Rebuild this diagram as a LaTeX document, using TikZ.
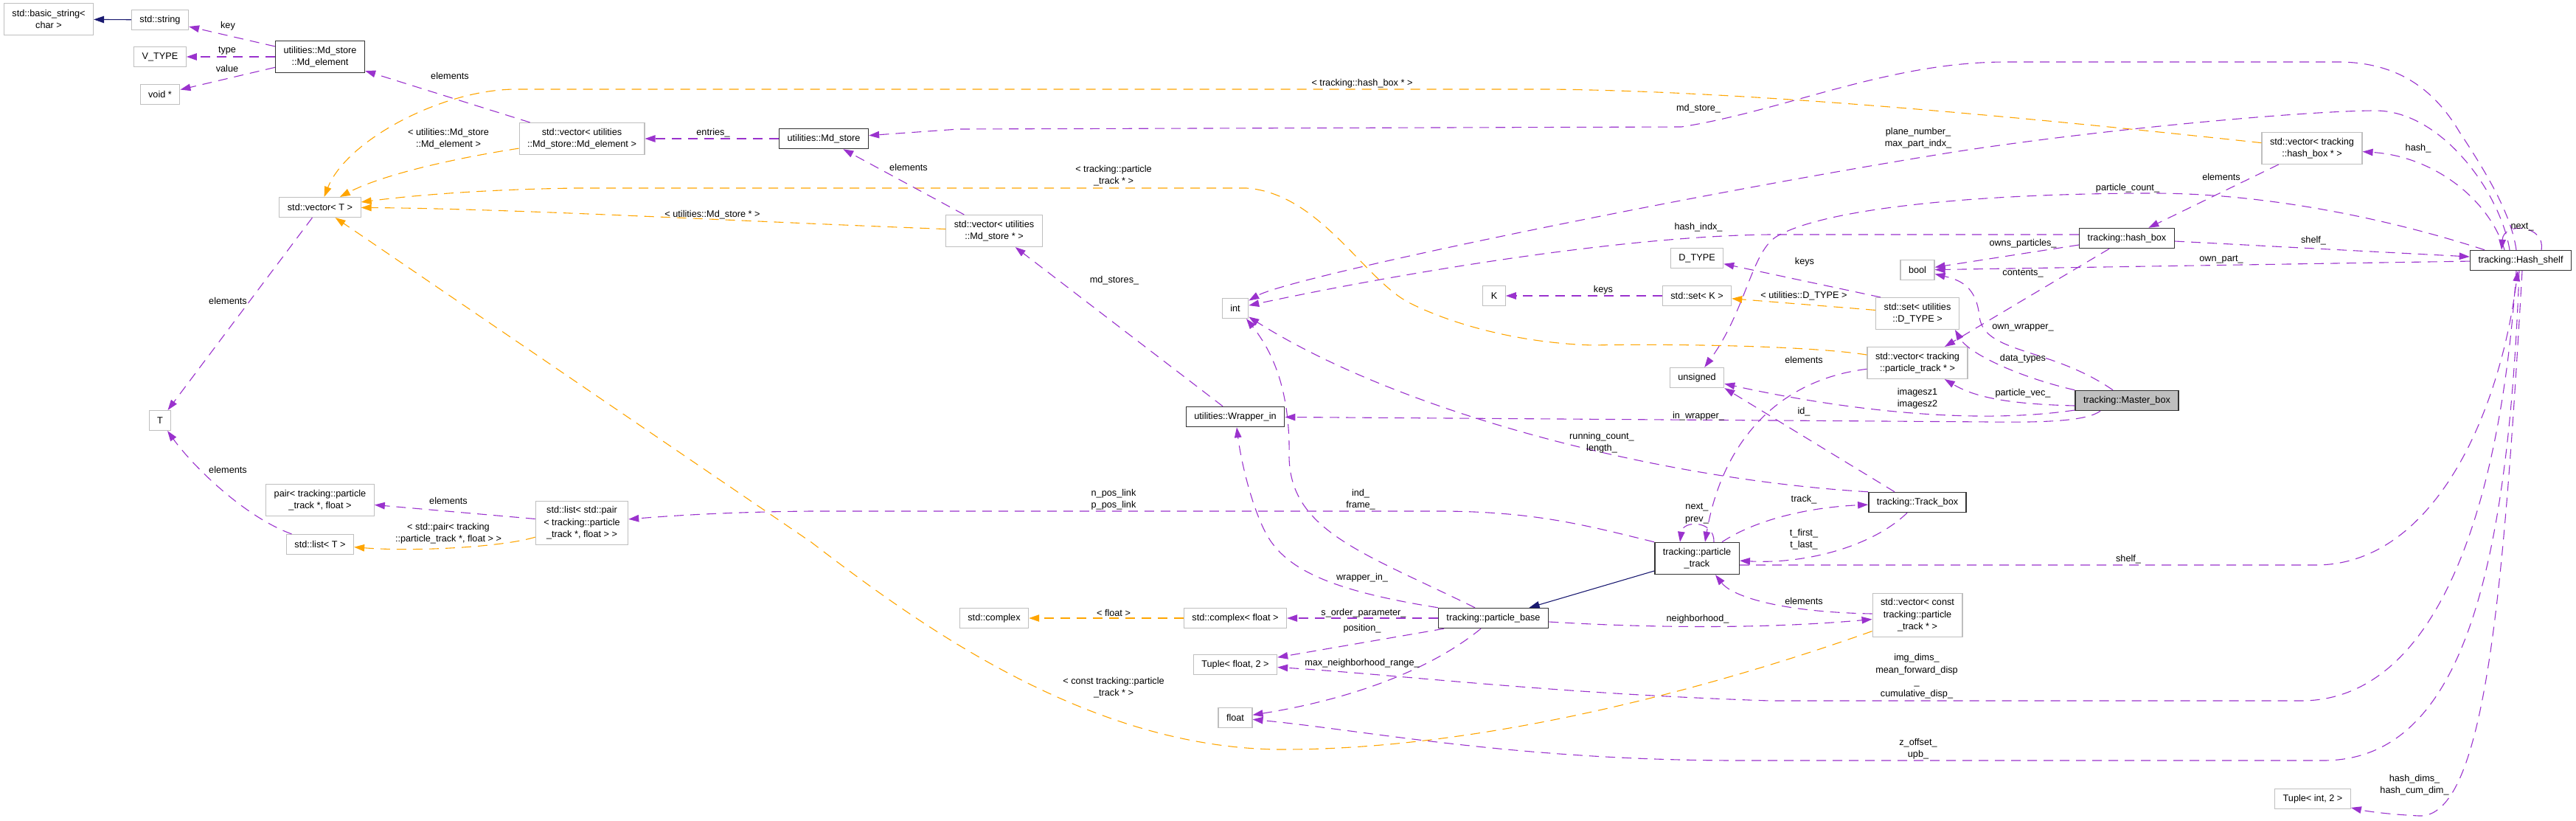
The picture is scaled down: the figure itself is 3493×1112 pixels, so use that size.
\documentclass[tikz,border=0pt]{standalone}
\usepackage{fontspec}
\setmainfont{Liberation Sans}
\usetikzlibrary{arrows.meta}
\definecolor{usecol}{HTML}{9A32CD}
\definecolor{tmplcol}{HTML}{FFA500}
\definecolor{basecol}{HTML}{191970}
\definecolor{boxgray}{HTML}{BFBFBF}

\begin{document}
\begin{tikzpicture}[
    x=1pt, y=-1pt,
    >={Triangle[length=14pt,width=9.5pt]},
    font=\fontsize{12.7}{16.4}\selectfont,
    member/.style={
        rectangle,
        draw=boxgray,
        line width=1.1pt,
        fill=white,
        inner xsep=11pt,
        inner ysep=0pt,
        minimum height=#1,
        align=center
    },
    member/.default=27pt,
    klass/.style={member=#1, draw=black!80, line width=1.5pt},
    klass/.default=27pt,
    focus/.style={klass, fill=boxgray},
    elabel/.style={inner sep=0pt, align=center},
    uses/.style={->, draw=usecol, line width=1.1pt, dash pattern=on 13pt off 9pt},
    tmpl/.style={->, draw=tmplcol, line width=1.1pt, dash pattern=on 13pt off 9pt},
    inherit/.style={->, draw=basecol, line width=1.1pt}
]
\useasboundingbox (0,0) rectangle (3493,1112);

% --- utilities side (left) ---
\node[member=43pt] (bstr)    at (66,26)   {std::basic\_string<\\char >};
\node[member]      (stdstr)  at (217,27)  {std::string};
\node[member]      (vtype)   at (217,77)  {V\_TYPE};
\node[member]      (voidp)   at (217,128) {void *};
\node[klass=43pt]  (mdel)    at (434,77)  {utilities::Md\_store\\::Md\_element};
\node[member]      (vecT)    at (434,281) {std::vector< T >};
\node[member]      (tT)      at (217,570) {T};
\node[member=43pt] (pairT)   at (434,678) {pair< tracking::particle\\\_track *, float >};
\node[member]      (listT)   at (434,738) {std::list< T >};
\node[member=43pt] (vecmdel) at (789,188) {std::vector< utilities\\::Md\_store::Md\_element >};
\node[klass]       (mdstore) at (1117,188) {utilities::Md\_store};
\node[member=59pt] (listpair) at (789,709) {std::list< std::pair\\< tracking::particle\\\_track *, float > >};
\node[member=43pt] (vecmds)  at (1348,313) {std::vector< utilities\\::Md\_store * >};

% --- plain types (middle column) ---
\node[member] (tint)   at (1675,418) {int};
\node[klass]  (wrap)   at (1675,565) {utilities::Wrapper\_in};
\node[member] (cplx)   at (1348,838) {std::complex};
\node[member] (cplxf)  at (1675,838) {std::complex< float >};
\node[member] (tupf)   at (1675,901) {Tuple< float, 2 >};
\node[member] (tfloat) at (1675,973) {float};
\node[member] (dtype)  at (2301,350) {D\_TYPE};
\node[member] (tK)     at (2026,401) {K};
\node[member] (setK)   at (2301,401) {std::set< K >};
\node[member] (uns)    at (2301,512) {unsigned};

% --- tracking classes (right) ---
\node[member]      (tbool)  at (2600,366) {bool};
\node[member=43pt] (setdt)  at (2600,425) {std::set< utilities\\::D\_TYPE >};
\node[member=43pt] (vecpt)  at (2600,492) {std::vector< tracking\\::particle\_track * >};
\node[klass]       (hbox)   at (2884,323) {tracking::hash\_box};
\node[focus]       (master) at (2884,543) {tracking::Master\_box};
\node[member=43pt] (vechb)  at (3135,201) {std::vector< tracking\\::hash\_box * >};
\node[klass]       (hshelf) at (3418,353) {tracking::Hash\_shelf};
\node[klass=43pt]  (ptrack) at (2301,757) {tracking::particle\\\_track};
\node[klass]       (tbox)   at (2600,681) {tracking::Track\_box};
\node[klass]       (pbase)  at (2025,838) {tracking::particle\_base};
\node[member=59pt] (vecc)   at (2600,834) {std::vector< const\\tracking::particle\\\_track * >};
\node[member]      (tupi)   at (3136,1083) {Tuple< int, 2 >};

% Inheritance
\draw[inherit] (stdstr) -- (bstr);
\draw[inherit] (ptrack) -- (pbase);

% Template instances
\draw[tmpl] (vecmdel) .. controls (620,214) and (520,236) .. (vecT);
\draw[tmpl] (vecmds) .. controls (1000,300) and (700,283) .. (vecT);
\draw[tmpl] (vechb) .. controls (2800,165) and (2400,124) .. (2100,121) -- (700,121) .. controls (600,121) and (470,190) .. (vecT);
\draw[tmpl] (vecpt) .. controls (2450,468) and (2250,466) .. (2160,468) .. controls (2060,465) and (1970,440) .. (1912,411) .. controls (1850,380) and (1790,262) .. (1690,255) -- (780,255) .. controls (650,257) and (560,265) .. (vecT);
\draw[tmpl] (vecc) .. controls (2300,940) and (2000,1016) .. (1740,1016) .. controls (1480,1016) and (1250,850) .. (1100,735) -- (vecT);
\draw[tmpl] (listpair) .. controls (680,742) and (560,748) .. (listT);
\draw[tmpl] (setdt) -- (setK);
\draw[tmpl] (cplxf) -- (cplx);

% utilities members
\draw[uses] (mdel) -- (stdstr);
\draw[uses] (mdel) -- (vtype);
\draw[uses] (mdel) -- (voidp);
\draw[uses] (vecmdel) -- (mdel);
\draw[uses] (mdstore) -- (vecmdel);
\draw[uses] (vecmds) -- (mdstore);
\draw[uses] (vecT) -- (tT);
\draw[uses] (listT) .. controls (330,700) and (260,630) .. (tT);
\draw[uses] (listpair) -- (pairT);
\draw[uses] ([xshift=-17pt]wrap.north) -- (vecmds);

% Hash_shelf members
\draw[uses] ([xshift=-6pt]hshelf.north) .. controls (3405,290) and (3372,235) .. (3335,179) .. controls (3300,120) and (3250,84) .. (3170,84) -- (2720,84) .. controls (2560,84) and (2420,150) .. (2280,172) -- (1300,175) -- (mdstore);
\draw[uses] ([xshift=-15pt]hshelf.north) .. controls (3390,260) and (3310,150) .. (3221,150) .. controls (3130,150) and (2850,175) .. (2650,206) .. controls (2300,262) and (1750,375) .. (tint);
\draw[uses] ([xshift=-49pt]hshelf.north) .. controls (3250,300) and (3080,262) .. (2920,262) .. controls (2700,262) and (2480,280) .. (2410,320) .. controls (2375,340) and (2368,420) .. (uns);
\draw[uses] ([xshift=-22pt]hshelf.north) .. controls (3375,270) and (3300,212) .. (vechb);
\draw[uses] ([xshift=28pt]hshelf.north) .. controls (3452,305) and (3395,300) .. ([xshift=-26pt]hshelf.north);
\draw[uses] (hshelf) -- (tbool);
\draw[uses] ([xshift=-6pt]hshelf.south) .. controls (3390,700) and (3300,950) .. (3120,950) -- (2400,950) .. controls (2100,940) and (1900,915) .. (tupf);
\draw[uses] ([xshift=-2pt]hshelf.south) .. controls (3400,800) and (3330,1031) .. (3150,1031) -- (2350,1031) .. controls (2050,1030) and (1850,990) .. (tfloat);
\draw[uses] ([xshift=2pt]hshelf.south) .. controls (3395,800) and (3370,1110) .. (3280,1106) .. controls (3240,1104) and (3210,1100) .. (tupi);

% hash_box members
\draw[uses] (vechb) -- (hbox);
\draw[uses] ([yshift=5pt]hbox.west) -- (2400,318) .. controls (2200,320) and (1900,370) .. (tint);
\draw[uses] ([yshift=-9pt]hbox.west) -- (tbool);
\draw[uses] (hbox) -- (vecpt);
\draw[uses] ([yshift=-4pt]hbox.east) -- ([yshift=5pt]hshelf.west);

% Master_box members
\draw[uses] (master.north west) .. controls (2740,512) and (2670,480) .. ([xshift=-6pt]setdt.south east);
\draw[uses] ([xshift=-19pt]master.north) .. controls (2780,470) and (2690,480) .. (2684,429) .. controls (2680,390) and (2660,380) .. (tbool);
\draw[uses] ([yshift=-7pt]master.west) .. controls (2730,548) and (2680,540) .. (vecpt);
\draw[uses] ([yshift=-13pt]master.west) .. controls (2650,580) and (2450,545) .. (uns);
\draw[uses] ([xshift=-36pt]master.south) .. controls (2830,570) and (2780,573) .. (2700,572) -- (wrap);

% Track_box and particle_track members
\draw[uses] ([xshift=-31pt]tbox.north) -- (uns.south east);
\draw[uses] (tbox.north west) .. controls (2250,650) and (1900,560) .. (tint);
\draw[uses] ([xshift=-14pt]tbox.south) .. controls (2540,740) and (2450,765) .. (ptrack);
\draw[uses] ([xshift=34pt]ptrack.north) .. controls (2380,705) and (2450,688) .. (tbox);
\draw[uses] ([xshift=23pt]ptrack.north) .. controls (2325,705) and (2282,705) .. ([xshift=-23pt]ptrack.north);
\draw[uses] (vecpt) .. controls (2410,515) and (2335,600) .. ([xshift=11pt]ptrack.north);
\draw[uses] ([yshift=2pt]vecc.west) .. controls (2420,830) and (2350,810) .. ([xshift=25pt]ptrack.south);
\draw[uses] (ptrack.north west) .. controls (2150,712) and (2080,693) .. (1950,693) -- (1100,693) .. controls (980,694) and (900,700) .. (listpair);
\draw[uses] ([yshift=-9pt]ptrack.east) -- (3140,766) .. controls (3300,766) and (3390,560) .. ([xshift=-4pt]hshelf.south);

% particle_base members
\draw[uses] ([xshift=-25pt]pbase.north) .. controls (1850,750) and (1750,720) .. (1748,620) .. controls (1750,520) and (1720,470) .. ([xshift=15pt]tint.south);
\draw[uses] (pbase.north west) .. controls (1800,800) and (1740,770) .. (1715,720) .. controls (1695,680) and (1682,620) .. ([xshift=2pt]wrap.south);
\draw[uses] (pbase) -- (cplxf);
\draw[uses] ([xshift=-67pt]pbase.south) -- (tupf);
\draw[uses] ([xshift=-17pt]pbase.south) .. controls (1950,900) and (1850,945) .. (tfloat);
\draw[uses] ([yshift=-5pt]pbase.east) .. controls (2250,852) and (2400,852) .. (vecc);

% sets
\draw[uses] ([xshift=-50pt]setdt.north) -- (dtype);
\draw[uses] (setK) -- (tK);

% Edge labels
\node[elabel] (lkey)     at (309,35)   {key};
\node[elabel] (ltype)    at (308,69)   {type};
\node[elabel] (lvalue)   at (308,93)   {value};
\node[elabel] (lelmd)    at (610,103)  {elements};
\node[elabel] (lvecmd)   at (608,188)  {< utilities::Md\_store\\::Md\_element >};
\node[elabel] (lelvec)   at (309,408)  {elements};
\node[elabel] (lellist)  at (309,637)  {elements};
\node[elabel] (lelpair)  at (608,679)  {elements};
\node[elabel] (lpair)    at (608,723)  {< std::pair< tracking\\::particle\_track *, float > >};
\node[elabel] (lentries) at (967,180)  {entries\_};
\node[elabel] (lmdsp)    at (966,291)  {< utilities::Md\_store * >};
\node[elabel] (lhbp)     at (1847,113) {< tracking::hash\_box * >};
\node[elabel] (lelmds)   at (1232,227) {elements};
\node[elabel] (lptp)     at (1510,238) {< tracking::particle\\\_track * >};
\node[elabel] (lmdstores) at (1511,380) {md\_stores\_};
\node[elabel] (lposlink) at (1510,677) {n\_pos\_link\\p\_pos\_link};
\node[elabel] (lfloat)   at (1510,831) {< float >};
\node[elabel] (lcpt)     at (1510,932) {< const tracking::particle\\\_track * >};
\node[elabel] (lmdstore) at (2303,147) {md\_store\_};
\node[elabel] (lhidx)    at (2303,308) {hash\_indx\_};
\node[elabel] (lkeysK)   at (2174,393) {keys};
\node[elabel] (linw)     at (2303,564) {in\_wrapper\_};
\node[elabel] (lrun)     at (2172,600) {running\_count\_\\length\_};
\node[elabel] (lind)     at (1845,677) {ind\_\\frame\_};
\node[elabel] (lnext)    at (2301,696) {next\_\\prev\_};
\node[elabel] (lwin)     at (1847,783) {wrapper\_in\_};
\node[elabel] (lsord)    at (1849,831) {s\_order\_parameter\_};
\node[elabel] (lposn)    at (1847,852) {position\_};
\node[elabel] (lmaxn)    at (1847,899) {max\_neighborhood\_range\_};
\node[elabel] (lneigh)   at (2302,839) {neighborhood\_};
\node[elabel] (lplane)   at (2601,187) {plane\_number\_\\max\_part\_indx\_};
\node[elabel] (lpcount)  at (2885,255) {particle\_count\_};
\node[elabel] (lowns)    at (2743,330) {owns\_particles\_};
\node[elabel] (lcont)    at (2743,371) {contents\_};
\node[elabel] (lkeysD)   at (2447,355) {keys};
\node[elabel] (ludt)     at (2446,401) {< utilities::D\_TYPE >};
\node[elabel] (lownw)    at (2743,444) {own\_wrapper\_};
\node[elabel] (ldata)    at (2743,486) {data\_types};
\node[elabel] (lelpt)    at (2446,488) {elements};
\node[elabel] (lpvec)    at (2743,533) {particle\_vec\_};
\node[elabel] (limg)     at (2600,540) {imagesz1\\imagesz2};
\node[elabel] (lid)      at (2446,558) {id\_};
\node[elabel] (ltrack)   at (2446,677) {track\_};
\node[elabel] (ltfirst)  at (2446,731) {t\_first\_\\t\_last\_};
\node[elabel] (lshelfp)  at (2886,758) {shelf\_};
\node[elabel] (lelc)     at (2446,815) {elements};
\node[elabel] (limgd)    at (2599,917) {img\_dims\_\\mean\_forward\_disp\\\_\\cumulative\_disp\_};
\node[elabel] (lzoff)    at (2601,1015) {z\_offset\_\\upb\_};
\node[elabel] (lhash)    at (3279,201) {hash\_};
\node[elabel] (lelhb)    at (3012,240) {elements};
\node[elabel] (lshelfh)  at (3137,326) {shelf\_};
\node[elabel] (lownp)    at (3012,352) {own\_part\_};
\node[elabel] (lnexth)   at (3420,308) {next\_};
\node[elabel] (lhdims)   at (3274,1064) {hash\_dims\_\\hash\_cum\_dim\_};

\end{tikzpicture}
\end{document}
